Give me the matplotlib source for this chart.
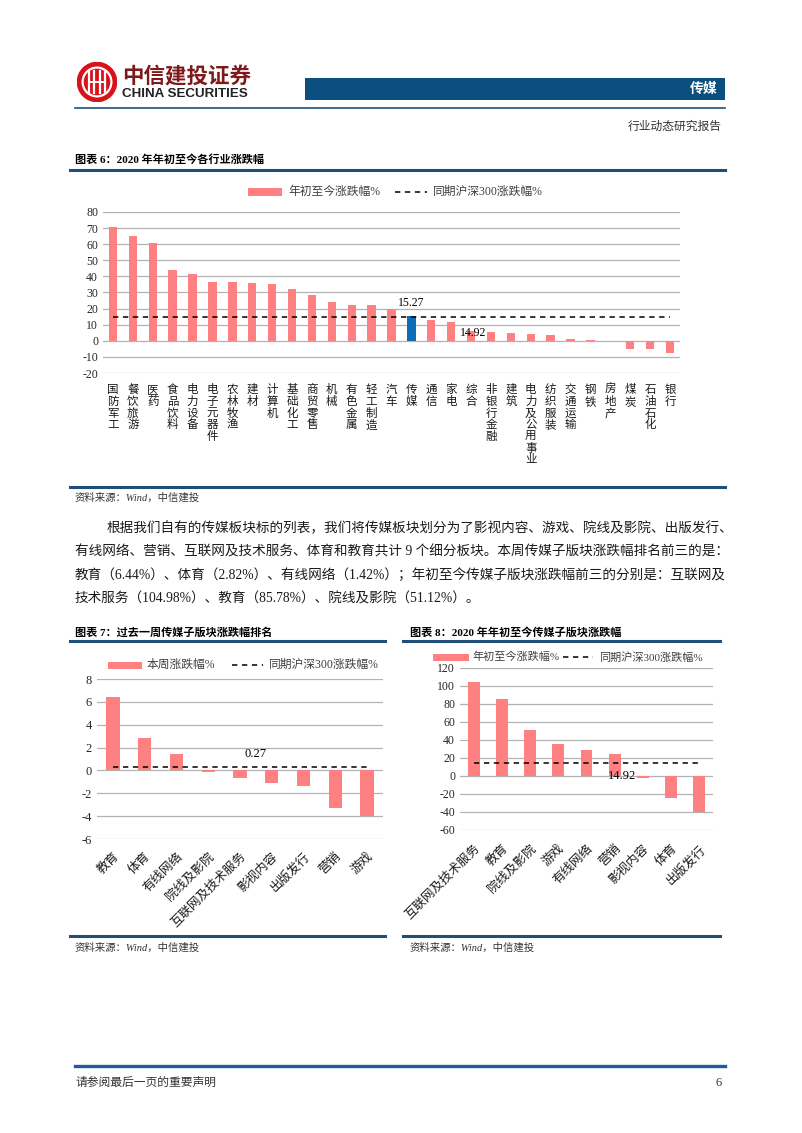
import matplotlib
matplotlib.use('Agg')
import matplotlib.pyplot as plt
from matplotlib.patches import Rectangle, Circle
from matplotlib.lines import Line2D
import numpy as np

W, H = 802, 1133
plt.rcParams['font.family'] = ['Liberation Serif', 'Noto Sans CJK SC']
plt.rcParams['axes.unicode_minus'] = False

# ---------------- data ----------------
ind_names = ['国防军工', '餐饮旅游', '医药', '食品饮料', '电力设备', '电子元器件', '农林牧渔', '建材',
             '计算机', '基础化工', '商贸零售', '机械', '有色金属', '轻工制造', '汽车', '传媒', '通信',
             '家电', '综合', '非银行金融', '建筑', '电力及公用事业', '纺织服装', '交通运输', '钢铁',
             '房地产', '煤炭', '石油石化', '银行']
ind_vals = [70.5, 65.0, 60.5, 44.2, 41.5, 36.5, 36.5, 36.0, 35.0, 32.0, 28.3, 24.0, 22.5, 22.2,
            20.0, 15.27, 13.0, 11.5, 6.0, 5.5, 5.0, 4.2, 3.5, 1.2, 0.2, 0.1, -4.8, -5.2, -7.8]
hs300_ytd = 14.92
media_label = '传媒'

week_names = ['教育', '体育', '有线网络', '院线及影院', '互联网及技术服务', '影视内容', '出版发行', '营销', '游戏']
week_vals = [6.44, 2.82, 1.42, -0.15, -0.62, -1.08, -1.35, -3.25, -4.0]
hs300_week = 0.27

ytd_names = ['互联网及技术服务', '教育', '院线及影院', '游戏', '有线网络', '营销', '影视内容', '体育', '出版发行']
ytd_vals = [104.98, 85.78, 51.12, 35.5, 28.5, 25.0, -2.5, -24.0, -40.5]

PINK = '#FF8080'
BLUE_BAR = '#0E6BB5'
NAVY = '#1F4E79'
GRID = '#B3B3B3'

fig = plt.figure(figsize=(W / 100, H / 100), dpi=100)


def fx(x):
    return x / W


def fy(y):
    return 1 - y / H


def ftext(x, y, s, **kw):
    return fig.text(fx(x), fy(y), s, **kw)


def hline(x0, x1, y, color=NAVY, lw=1.5):
    fig.add_artist(Line2D([fx(x0), fx(x1)], [fy(y), fy(y)], color=color, lw=lw))


def axes_px(l, t, r, b):
    return fig.add_axes([fx(l), fy(b), (r - l) / W, (b - t) / H])


def legend_px(y, xp, wp, xt1, xd, wd, xt2, lab1, lab2, fs=8.5, hp=7):
    fig.add_artist(Rectangle((fx(xp), fy(y + hp / 2)), wp / W, hp / H, color=PINK, lw=0))
    ftext(xt1, y, lab1, va='center', ha='left', fontsize=fs, color='#404040')
    fig.add_artist(Line2D([fx(xd), fx(xd + wd)], [fy(y), fy(y)], color='black',
                          ls=(0, (3.5, 3)), lw=1.1))
    ftext(xt2, y, lab2, va='center', ha='left', fontsize=fs, color='#404040')


def bar_chart(ax, names, vals, ref, ylim, yticks, colors, width, ylabsize=8.5):
    x = np.arange(len(names))
    ax.bar(x, vals, width=width, color=colors, zorder=3)
    ax.plot([x[0], x[-1]], [ref, ref], ls=(0, (3.5, 3)), color='black', lw=1.1, zorder=4)
    ax.set_xlim(-0.5, len(names) - 0.5)
    ax.set_ylim(*ylim)
    ax.set_yticks(yticks)
    ax.yaxis.grid(True, color=GRID, lw=0.9)
    ax.set_axisbelow(True)
    for s in ax.spines.values():
        s.set_visible(False)
    ax.tick_params(length=0, colors='#262626')
    ax.tick_params(axis='y', labelsize=ylabsize)
    ax.patch.set_alpha(0)
    return x


# ---------------- header ----------------
lax = axes_px(77, 62, 117, 102)
lax.set_xlim(-1, 1)
lax.set_ylim(-1, 1)
lax.set_aspect('equal')
lax.axis('off')
lax.add_patch(Circle((0, 0), 0.98, color='#D8121A'))
lax.add_patch(Circle((0, 0), 0.72, fill=False, ec='white', lw=1.6))
for xx in (-0.42, -0.14, 0.14, 0.42):
    lax.plot([xx, xx], [-0.55, 0.55], color='white', lw=1.6)
lax.plot([-0.42, 0.42], [0.0, 0.0], color='white', lw=1.4)

ftext(122, 76, '中信建投证券', fontsize=15.5, fontweight='bold', color='#7E1A1C',
      family=['Noto Sans CJK SC'], va='center', ha='left')
ftext(122, 94, 'CHINA SECURITIES', fontsize=9.6, fontweight='bold', color='#222222',
      family=['Liberation Sans'], va='center', ha='left')

fig.add_artist(Rectangle((fx(305), fy(100)), 420 / W, 22 / H, color='#0B4F80', lw=0))
ftext(718, 89, '传媒', fontsize=10, fontweight='bold', color='white',
      family=['Noto Sans CJK SC'], va='center', ha='right')
hline(75, 725, 108, color=NAVY, lw=1.2)
ftext(722, 127, '行业动态研究报告', fontsize=8.5, color='#333333', va='center', ha='right')

# ---------------- chart 6 ----------------
ftext(75, 160, '图表 6：2020 年年初至今各行业涨跌幅', fontsize=8, fontweight='bold',
      va='center', ha='left', color='black')
hline(70, 725, 170, lw=2.2)
legend_px(192, 248, 34, 288, 395, 32, 433, '年初至今涨跌幅%', '同期沪深300涨跌幅%')

ax1 = axes_px(103, 212, 680, 373)
cols1 = [BLUE_BAR if n == media_label else PINK for n in ind_names]
x1 = bar_chart(ax1, ind_names, ind_vals, hs300_ytd, (-20, 80), np.arange(-20, 81, 10), cols1, 0.42)
ax1.set_xticks(x1)
ax1.set_xticklabels(['\n'.join(n) for n in ind_names], fontsize=8.3, va='top',
                    linespacing=0.97, color='#1a1a1a')
ax1.tick_params(axis='x', pad=8)
mi = ind_names.index(media_label)
ax1.text(x1[mi], ind_vals[mi] + 4.5, f'{ind_vals[mi]:.2f}', ha='center', va='bottom', fontsize=8.5)
ax1.text(18.1, 5.0, f'{hs300_ytd:.2f}', ha='center', va='center', fontsize=8.5, zorder=5)

hline(70, 725, 487, lw=2.2)
ftext(75, 498, '资料来源：Wind，中信建投', fontsize=7.5, style='italic', color='#333333',
      va='center', ha='left')

# ---------------- paragraph ----------------
para = [
    (107, '根据我们自有的传媒板块标的列表，我们将传媒板块划分为了影视内容、游戏、院线及影院、出版发行、'),
    (75, '有线网络、营销、互联网及技术服务、体育和教育共计 9 个细分板块。本周传媒子版块涨跌幅排名前三的是：'),
    (75, '教育（6.44%）、体育（2.82%）、有线网络（1.42%）；年初至今传媒子版块涨跌幅前三的分别是：互联网及'),
    (75, '技术服务（104.98%）、教育（85.78%）、院线及影院（51.12%）。'),
]
for i, (xx, s) in enumerate(para):
    ftext(xx, 529 + i * 23.3, s, fontsize=9.8, va='center', ha='left', color='#1a1a1a')

# ---------------- chart 7 ----------------
ftext(75, 632, '图表 7：过去一周传媒子版块涨跌幅排名', fontsize=8, fontweight='bold',
      va='center', ha='left')
hline(70, 385, 641, lw=2.2)
legend_px(665, 108, 34, 147, 232, 31, 269, '本周涨跌幅%', '同期沪深300涨跌幅%')

ax7 = axes_px(97, 679, 383, 839)
x7 = bar_chart(ax7, week_names, week_vals, hs300_week, (-6, 8), np.arange(-6, 9, 2), PINK, 0.42,
               ylabsize=9)
ax7.set_xticks(x7)
ax7.set_xticklabels(week_names, rotation=45, ha='right', va='top', rotation_mode='anchor',
                    fontsize=9, color='#1a1a1a')
ax7.tick_params(axis='x', pad=8)
ax7.text(4.5, 1.4, f'{hs300_week:.2f}', ha='center', va='center', fontsize=9)

hline(70, 385, 936, lw=2.2)
ftext(75, 948, '资料来源：Wind，中信建投', fontsize=7.5, style='italic', color='#333333',
      va='center', ha='left')

# ---------------- chart 8 ----------------
ftext(410, 632, '图表 8：2020 年年初至今传媒子版块涨跌幅', fontsize=8, fontweight='bold',
      va='center', ha='left')
hline(403, 720, 641, lw=2.2)
legend_px(657, 433, 36, 472, 563, 30, 599, '年初至今涨跌幅%', '同期沪深300涨跌幅%', fs=8)

ax8 = axes_px(460, 668, 713, 830)
x8 = bar_chart(ax8, ytd_names, ytd_vals, hs300_ytd, (-60, 120), np.arange(-60, 121, 20), PINK, 0.42,
               ylabsize=8.5)
ax8.set_xticks(x8)
ax8.set_xticklabels(ytd_names, rotation=45, ha='right', va='top', rotation_mode='anchor',
                    fontsize=9, color='#1a1a1a')
ax8.tick_params(axis='x', pad=9)
ax8.text(5.25, 0.5, f'{hs300_ytd:.2f}', ha='center', va='center', fontsize=9, zorder=5)

hline(403, 720, 936, lw=2.2)
ftext(410, 948, '资料来源：Wind，中信建投', fontsize=7.5, style='italic', color='#333333',
      va='center', ha='left')

# ---------------- footer ----------------
hline(75, 725, 1066, color='#1F5C99', lw=2.4)
ftext(75, 1083, '请参阅最后一页的重要声明', fontsize=8.5, va='center', ha='left', color='#333333')
ftext(722, 1083, '6', fontsize=9, va='center', ha='right', color='#333333')

fig.savefig('out.png', dpi=100)
